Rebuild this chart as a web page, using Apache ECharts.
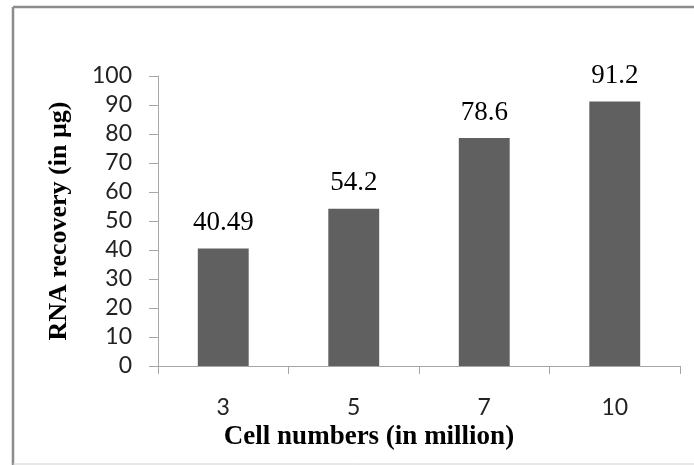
<!DOCTYPE html>
<html>
<head>
<meta charset="utf-8">
<script src="https://cdn.jsdelivr.net/npm/echarts@6/dist/echarts.min.js"></script>
<style>
html,body{margin:0;padding:0;background:#fff;}
#chart{width:694px;height:465px;}
</style>
</head>
<body>
<div id="chart"></div>
<script>
var categories = ['3', '5', '7', '10'];
var recovery = [40.49, 54.2, 78.6, 91.2];
var valueLabels = ['40.49', '54.2', '78.6', '91.2'];
var xTitle = 'Cell numbers (in million)';
var yTitle = 'RNA recovery (in \u00b5g)';

var chart = echarts.init(document.getElementById('chart'));
var axisGray = '#a6a6a6';
var option = {
  animation: false,
  backgroundColor: '#ffffff',
  graphic: [
    {type: 'line', shape: {x1: 13, y1: 7, x2: 694, y2: 7}, style: {stroke: '#8c8c8c', lineWidth: 2.5}},
    {type: 'line', shape: {x1: 13, y1: 7, x2: 13, y2: 465}, style: {stroke: '#8c8c8c', lineWidth: 2.5}},
    {type: 'line', shape: {x1: 13, y1: 464, x2: 694, y2: 464}, style: {stroke: '#d0d0d0', lineWidth: 1}}
  ],
  grid: {left: 158, right: 14, top: 76, bottom: 99, containLabel: false},
  xAxis: {
    type: 'category',
    data: categories,
    name: xTitle,
    nameLocation: 'middle',
    nameGap: 57,
    nameTextStyle: {fontFamily: 'Liberation Serif', fontWeight: 'bold', fontSize: 27, color: '#000', padding: [0, 100, 0, 0]},
    axisLine: {lineStyle: {color: axisGray, width: 1}},
    axisTick: {show: true, length: 8, lineStyle: {color: axisGray}},
    axisLabel: {margin: 30, fontFamily: 'Lato', fontSize: 23, color: '#222'}
  },
  yAxis: {
    type: 'value',
    min: 0, max: 100, interval: 10,
    name: yTitle,
    nameLocation: 'middle',
    nameGap: 86,
    nameRotate: 90,
    nameTextStyle: {fontFamily: 'Liberation Serif', fontWeight: 'bold', fontSize: 26, color: '#000'},
    axisLine: {show: true, lineStyle: {color: axisGray, width: 1}},
    axisTick: {show: true, length: 9, lineStyle: {color: axisGray}},
    splitLine: {show: false},
    axisLabel: {margin: 26, fontFamily: 'Lato', fontSize: 23, color: '#222'}
  },
  series: [{
    type: 'bar',
    data: recovery,
    barCategoryGap: '61%',
    itemStyle: {color: '#606060'},
    label: {
      show: true,
      position: 'top',
      distance: 12,
      fontFamily: 'Liberation Serif',
      fontSize: 27,
      color: '#000',
      formatter: function (p) { return valueLabels[p.dataIndex]; }
    }
  }]
};
chart.setOption(option);
</script>
</body>
</html>
